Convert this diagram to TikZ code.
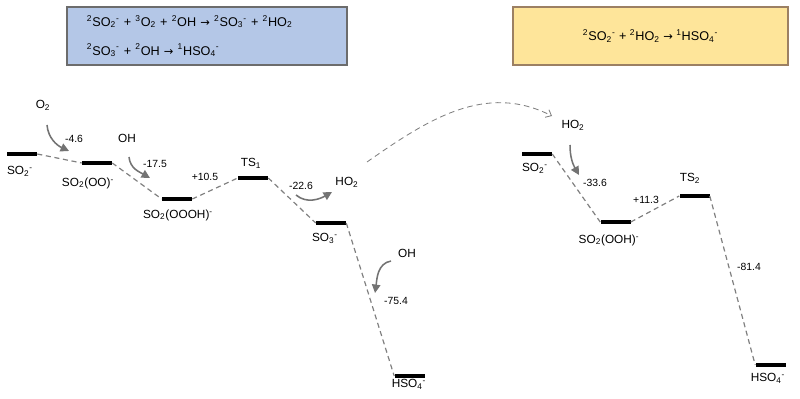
\documentclass[tikz,border=0pt]{standalone}
\usepackage{fontspec}
\setmainfont{Liberation Sans}
\newfontfamily\arrfont{DejaVu Sans}[Scale=0.9]
\usetikzlibrary{arrows.meta}
\newcommand{\chsub}[1]{\textsubscript{#1}}
\newcommand{\chsup}[1]{\textsuperscript{#1}}
\newcommand{\yields}{{\arrfont →}}
\definecolor{rxnblue}{HTML}{B4C7E7}
\definecolor{rxnyellow}{HTML}{FEE59A}
\definecolor{pathgray}{HTML}{808080}

\begin{document}
\begin{tikzpicture}[x=0.025cm, y=0.025cm, font=\fontsize{8.4}{9.5}\selectfont,
  lvl/.style={fill=black, inner sep=0pt, minimum width=0.75cm, minimum height=2.3pt},
  spec/.style={inner sep=1pt},
  enval/.style={inner sep=1pt, font=\fontsize{7.4}{8}\selectfont},
  conn/.style={draw=pathgray, line width=0.85pt, dash pattern=on 3.6pt off 2.6pt},
  react/.style={draw=pathgray!90!black, line width=1.1pt, -{Triangle[length=6pt, width=6pt]}},
  jump/.style={draw=pathgray, line width=0.6pt, dash pattern=on 4pt off 2.8pt, -{Straight Barb[length=3.5pt, width=6pt]}},
  rxnbox/.style={draw=gray!85!black, line width=0.9pt, minimum height=1.45cm, inner sep=0pt}]
  \useasboundingbox (0,0) rectangle (800,-399);
  % reaction boxes
  \node[rxnbox, fill=rxnblue, minimum width=7cm, text width=6cm, align=left, font=\fontsize{9}{20.5}\selectfont] (bxa) at (207,-36)
    {\chsup{2}SO\chsub{2}\chsup{-} + \chsup{3}O\chsub{2} + \chsup{2}OH \yields{} \chsup{2}SO\chsub{3}\chsup{-} + \chsup{2}HO\chsub{2}\\
     \chsup{2}SO\chsub{3}\chsup{-} + \chsup{2}OH \yields{} \chsup{1}HSO\chsub{4}\chsup{-}};
  \node[rxnbox, fill=rxnyellow, draw=brown!45!gray, minimum width=6.875cm, font=\fontsize{9}{10}\selectfont] (bxb) at (650.5,-36)
    {\chsup{2}SO\chsub{2}\chsup{-} + \chsup{2}HO\chsub{2} \yields{} \chsup{1}HSO\chsub{4}\chsup{-}};
  % energy levels, first path
  \node[lvl] (la) at (22,-154) {};
  \node[lvl] (lb) at (97,-163) {};
  \node[lvl] (lc) at (177,-199) {};
  \node[lvl] (ld) at (253,-178) {};
  \node[lvl] (le) at (331,-223) {};
  \node[lvl] (lf) at (409.5,-376) {};
  % energy levels, second path
  \node[lvl] (ra) at (537,-154) {};
  \node[lvl] (rb) at (615.5,-222) {};
  \node[lvl] (rc) at (694.5,-196) {};
  \node[lvl] (rd) at (770.5,-365) {};
  % species names
  \node[spec] (nla) at (20,-171) {SO\chsub{2}\chsup{-}};
  \node[spec] (nlb) at (88,-183) {SO\chsub{2}(OO)\chsup{-}};
  \node[spec] (nlc) at (178,-215) {SO\chsub{2}(OOOH)\chsup{-}};
  \node[spec] (nld) at (251,-163) {TS\chsub{1}};
  \node[spec] (nle) at (325,-238) {SO\chsub{3}\chsup{-}};
  \node[spec] (nlf) at (409,-384) {HSO\chsub{4}\chsup{-}};
  \node[spec] (nra) at (535,-168) {SO\chsub{2}\chsup{-}};
  \node[spec] (nrb) at (609,-240) {SO\chsub{2}(OOH)\chsup{-}};
  \node[spec] (nrc) at (690,-178) {TS\chsub{2}};
  \node[spec] (nrd) at (768,-378) {HSO\chsub{4}\chsup{-}};
  % reactants and products
  \node[spec] (oxy) at (43,-105) {O\chsub{2}};
  \node[spec] (oha) at (127,-138) {OH};
  \node[spec] (hoa) at (347,-182) {HO\chsub{2}};
  \node[spec] (ohb) at (407,-253) {OH};
  \node[spec] (hob) at (573,-125) {HO\chsub{2}};
  % energy changes
  \node[enval] (ea) at (74,-139) {-4.6};
  \node[enval] (eb) at (155,-164) {-17.5};
  \node[enval] (ec) at (205,-177) {+10.5};
  \node[enval] (ed) at (301,-186) {-22.6};
  \node[enval] (ee) at (396,-301) {-75.4};
  \node[enval] (ef) at (595,-183) {-33.6};
  \node[enval] (eg) at (646,-200) {+11.3};
  \node[enval] (eh) at (749,-267) {-81.4};
  % dashed connectors
  \draw[conn] (la.east) -- (lb.west);
  \draw[conn] (lb.east) -- (lc.west);
  \draw[conn] (lc.east) -- (ld.west);
  \draw[conn] (ld.east) -- (le.west);
  \draw[conn] (le.east) -- (lf.west);
  \draw[conn] (ra.east) -- (rb.west);
  \draw[conn] (rb.east) -- (rc.west);
  \draw[conn] (rc.east) -- (rd.west);
  % curved arrows
  \coordinate (oxya) at (47,-125); \coordinate (oxyb) at (69,-151);
  \coordinate (ohaa) at (129,-157); \coordinate (ohab) at (150,-178);
  \coordinate (hoaa) at (296,-195); \coordinate (hoab) at (332,-192);
  \coordinate (ohba) at (391,-261); \coordinate (ohbb) at (375,-293);
  \coordinate (hoba) at (570,-145); \coordinate (hobb) at (579,-175);
  \coordinate (jmpa) at (367,-162); \coordinate (jmpb) at (552,-116);
  \draw[react] (oxya) to[out=-85, in=155] (oxyb);
  \draw[react] (ohaa) to[out=-85, in=150] (ohab);
  \draw[react] (hoaa) to[out=-40, in=210] (hoab);
  \draw[react] (ohba) to[out=190, in=82] (ohbb);
  \draw[react] (hoba) to[out=-90, in=120] (hobb);
  \draw[jump] (jmpa) to[out=35, in=153] (jmpb);
\end{tikzpicture}
\end{document}
